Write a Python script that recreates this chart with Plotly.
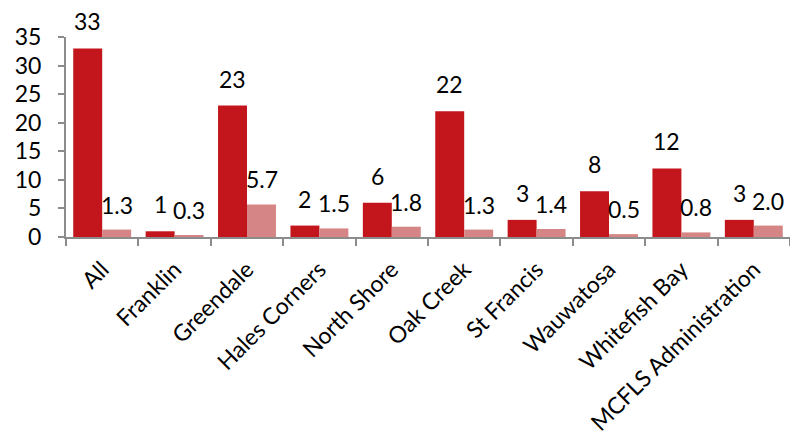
import plotly.graph_objects as go

categories = ["All", "Franklin", "Greendale", "Hales Corners", "North Shore",
              "Oak Creek", "St Francis", "Wauwatosa", "Whitefish Bay",
              "MCFLS Administration"]
counts = [33, 1, 23, 2, 6, 22, 3, 8, 12, 3]
rates = [1.3, 0.3, 5.7, 1.5, 1.8, 1.3, 1.4, 0.5, 0.8, 2.0]
count_labels = [str(v) for v in counts]
rate_labels = [f"{v:.1f}" for v in rates]

FONT = "Lato"
RED = "#C3161C"
PINK = "#D58585"

fig = go.Figure()
fig.add_trace(go.Bar(x=categories, y=counts, marker=dict(color=RED, line=dict(width=0)),
                     name="Count", offsetgroup="a"))
fig.add_trace(go.Bar(x=categories, y=rates, marker=dict(color=PINK, line=dict(width=0)),
                     name="Rate", offsetgroup="b"))

# value labels above each bar
for i, cat in enumerate(categories):
    fig.add_annotation(x=cat, y=counts[i], text=count_labels[i], showarrow=False,
                       xshift=-14.5, yshift=27, yanchor="middle",
                       font=dict(family=FONT, size=23, color="#000000"))
    fig.add_annotation(x=cat, y=rates[i], text=rate_labels[i], showarrow=False,
                       xshift=14.5, yshift=25, yanchor="middle",
                       font=dict(family=FONT, size=23, color="#000000"))

fig.update_layout(
    width=790, height=440,
    margin=dict(l=66, r=0, t=37, b=203),
    paper_bgcolor="white", plot_bgcolor="white",
    barmode="group", bargap=0.2, bargroupgap=0,
    showlegend=False,
    font=dict(family=FONT, color="#000000"),
)
fig.update_xaxes(
    tickangle=-45, tickfont=dict(family=FONT, size=23, color="#000000"),
    showline=True, linecolor="#8C8C8C", linewidth=2,
    ticks="outside", tickson="boundaries", ticklen=7, tickcolor="#8C8C8C", tickwidth=2,
    ticklabelstandoff=8, automargin=False,
    showgrid=False,
)
fig.update_yaxes(
    range=[0, 35], dtick=5, tickfont=dict(family=FONT, size=23, color="#000000"),
    showline=True, linecolor="#8C8C8C", linewidth=2,
    ticks="outside", ticklen=6, tickcolor="#8C8C8C", tickwidth=2,
    ticklabelstandoff=12, automargin=False,
    showgrid=False, zeroline=False,
)

fig.write_html("out.html")
